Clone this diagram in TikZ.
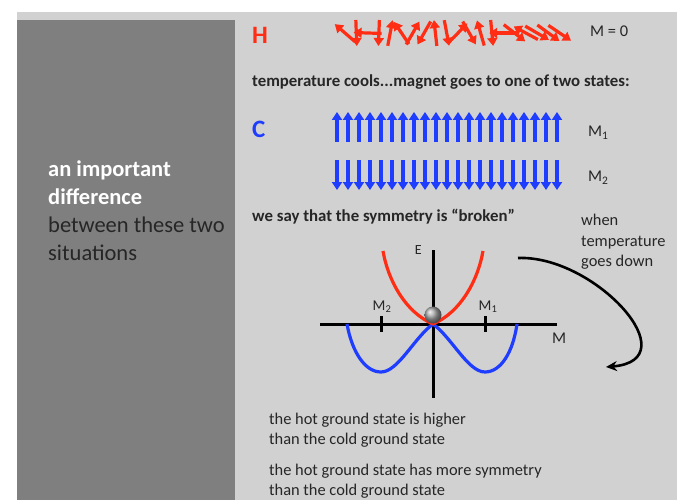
\documentclass[tikz,border=0pt]{standalone}
\usepackage{fontspec}
\setmainfont{Carlito}
\usepackage{xcolor}
\usepackage{tikz}
\usetikzlibrary{positioning, arrows.meta}
\definecolor{hotred}{HTML}{FF2D14}
\definecolor{coldblue}{HTML}{1F3DFF}
\definecolor{panelgrey}{HTML}{D1D1D1}
\definecolor{sidegrey}{HTML}{7F7F7F}
\definecolor{inkgrey}{HTML}{262626}

\begin{document}
\begin{tikzpicture}[
    x=1pt, y=-1pt,
    txt/.style={font=\fontsize{16.4}{20.5}\selectfont, text=inkgrey,
                inner sep=0pt, align=left},
    btxt/.style={txt, font=\fontsize{16.8}{20}\selectfont\bfseries},
    big/.style={font=\fontsize{25}{30}\selectfont\bfseries, inner sep=0pt},
    spin/.style={line width=3.2pt, -{Triangle[length=8pt, width=10pt]}},
    axis/.style={line width=3pt, black},
    well/.style={line width=3.2pt, line join=round},
    coolarrow/.style={line width=2.6pt, black, -{Stealth[length=11pt, width=10pt]}},
]

% --- page and the two panels ---
\fill[white] (0,0) rectangle (677,500);
\useasboundingbox (0,0) rectangle (677,500);
\fill[panelgrey] (17,12) rectangle (677,500);
\fill[sidegrey] (17,20) rectangle (235,500);

% --- side text ---
\node[txt, font=\fontsize{22.5}{28}\selectfont, anchor=west] (side) at (48,211)
    {{\color{white}\bfseries an important}\\{\color{white}\bfseries difference}\\
     between these two\\situations};

% --- hot state: random spins ---
\node[big, text=hotred, anchor=west] (hot) at (252,35) {H};
\foreach \a [count=\i from 0] in {137,-88,178,-92,80,122,62,-118,96,-80,
                                  48,-62,105,-85,180,-40,150,-32,-38,-36}
    \draw[spin, hotred]
        ({345+11.3*\i-14*cos(\a)}, {33+13*sin(\a)}) -- ++({28*cos(\a)}, {-26*sin(\a)});
\node[txt, anchor=west] (mzero) at (590,31) {M = 0};

\node[btxt, anchor=west] (cools) at (252,82)
    {temperature cools...magnet goes to one of two states:};

% --- cold state: aligned spins ---
\node[big, text=coldblue, anchor=west] (cold) at (252,129) {C};
\foreach \i in {0,...,20} {
    \draw[spin, coldblue] (337+11*\i,142) -- ++(0,-30);
    \draw[spin, coldblue] (337+11*\i,160) -- ++(0,30);
}
\node[txt, anchor=west] (mone) at (588,133) {M\textsubscript{1}};
\node[txt, anchor=west] (mtwo) at (588,178) {M\textsubscript{2}};

\node[btxt, anchor=west] (broken) at (252,217)
    {we say that the symmetry is “broken”};

% --- energy landscape ---
\coordinate (mleft) at (320,324);
\coordinate (mright) at (557,324);
\coordinate (etop) at (433,250);
\coordinate (ebot) at (433,398);
\draw[axis] (mleft) -- (mright);
\draw[axis] (etop) -- (ebot);
\draw[axis] (381,316) -- (381,332);
\draw[axis] (485,316) -- (485,332);
\node[txt, font=\fontsize{14}{17}\selectfont, anchor=east] (elabel) at (422,250) {E};
\node[txt, anchor=west] (mlabel) at (552,338) {M};
\node[txt, font=\fontsize{15}{18}\selectfont] (mtwotick) at (382,307) {M\textsubscript{2}};
\node[txt, font=\fontsize{15}{18}\selectfont] (monetick) at (488,307) {M\textsubscript{1}};

\draw[well, coldblue] (347,324) .. controls (352,352) and (365,372) .. (381,372)
    .. controls (398,372) and (414,338) .. (433,324)
    .. controls (452,338) and (468,372) .. (485,372)
    .. controls (501,372) and (513,352) .. (517,324);
\draw[well, hotred] (383,251) .. controls (388,280) and (405,312) .. (433,324)
    .. controls (461,312) and (478,280) .. (483,251);
\shade[ball color=gray!70] (433,315) circle (8.5);

% --- cooling ---
\node[txt, anchor=west] (when) at (581,242) {when\\temperature\\goes down};
\coordinate (coolstart) at (518,258);
\coordinate (coolend) at (606,367);
\draw[coolarrow] (coolstart) .. controls (595,255) and (690,360) .. (coolend);

% --- conclusions ---
\node[txt, anchor=west] (higher) at (269,430)
    {the hot ground state is higher\\than the cold ground state};
\node[txt, anchor=west] (moresym) at (269,481)
    {the hot ground state has more symmetry\\than the cold ground state};

\end{tikzpicture}
\end{document}
